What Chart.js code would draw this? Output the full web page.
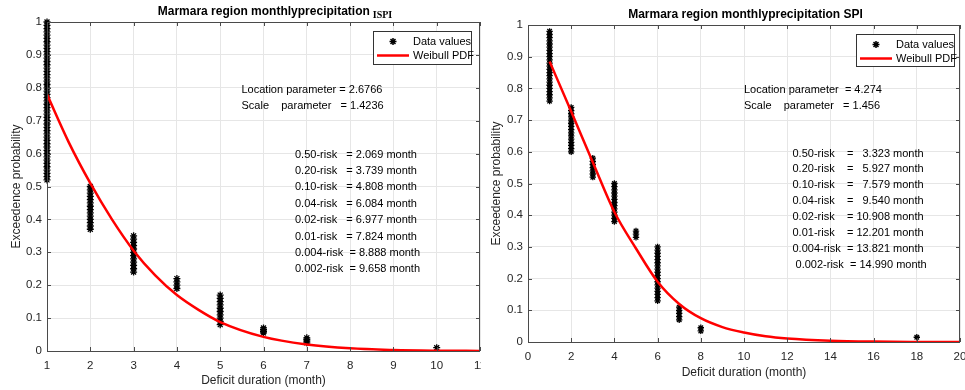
<!DOCTYPE html>
<html>
<head>
<meta charset="utf-8">
<script src="https://cdn.jsdelivr.net/npm/chart.js@4"></script>
<style>
  html, body { margin: 0; padding: 0; background: #fff; overflow: hidden; }
  .panel { position: absolute; top: 0; height: 390px; overflow: hidden; }
  .inner { position: relative; width: 500px; height: 390px; }
  #pl { left: 0; width: 481px; }
  #pr { left: 482px; width: 483px; }
</style>
</head>
<body>
<div class="panel" id="pl"><div class="inner"><canvas id="chart-left"></canvas></div></div>
<div class="panel" id="pr"><div class="inner"><canvas id="chart-right"></canvas></div></div>
<script>
// ---- ISPI panel (left) ----
const ispiDurations = [1, 2, 3, 4, 5, 6, 7, 10];
const ispiProbs = [
  [1.00, 0.99, 0.98, 0.97, 0.96, 0.95, 0.94, 0.93, 0.92, 0.91, 0.90, 0.89, 0.88, 0.87, 0.86, 0.85, 0.84,
   0.83, 0.82, 0.81, 0.80, 0.79, 0.78, 0.77, 0.76, 0.75, 0.74, 0.73, 0.72, 0.71, 0.70, 0.69, 0.68, 0.67,
   0.66, 0.65, 0.64, 0.63, 0.62, 0.61, 0.60, 0.59, 0.58, 0.57, 0.56, 0.55, 0.54, 0.53, 0.52],
  [0.50, 0.49, 0.48, 0.47, 0.46, 0.45, 0.44, 0.43, 0.42, 0.41, 0.40, 0.39, 0.38, 0.37],
  [0.35, 0.34, 0.33, 0.32, 0.31, 0.30, 0.29, 0.28, 0.27, 0.26, 0.25, 0.24],
  [0.22, 0.21, 0.20, 0.19],
  [0.17, 0.16, 0.15, 0.14, 0.13, 0.12, 0.11, 0.10, 0.09, 0.08],
  [0.07, 0.065, 0.06, 0.055],
  [0.04, 0.035, 0.03, 0.025],
  [0.01]
];
const ispiFitX = [1, 1.5, 2, 2.5, 3, 3.5, 4, 4.5, 5, 6, 7, 8, 9, 10, 11];
const ispiFitY = [0.78, 0.635, 0.51, 0.40, 0.305, 0.23, 0.17, 0.125, 0.088, 0.043, 0.02, 0.008, 0.003, 0.001, 0.0003];
const ispiParams = ["Location parameter = 2.6766", "Scale    parameter   = 1.4236"];
const ispiRisks = [
  "0.50-risk   = 2.069 month",
  "0.20-risk   = 3.739 month",
  "0.10-risk   = 4.808 month",
  "0.04-risk   = 6.084 month",
  "0.02-risk   = 6.977 month",
  "0.01-risk   = 7.824 month",
  "0.004-risk  = 8.888 month",
  "0.002-risk  = 9.658 month"
];

// ---- SPI panel (right) ----
const spiDurations = [1, 2, 3, 4, 5, 6, 7, 8, 18];
const spiProbs = [
  [0.98, 0.97, 0.96, 0.95, 0.94, 0.93, 0.92, 0.91, 0.90, 0.89, 0.88, 0.87, 0.86, 0.85, 0.84, 0.83, 0.82,
   0.81, 0.80, 0.79, 0.78, 0.77, 0.76],
  [0.74, 0.73, 0.72, 0.71, 0.70, 0.69, 0.68, 0.67, 0.66, 0.65, 0.64, 0.63, 0.62, 0.61, 0.60],
  [0.58, 0.57, 0.56, 0.55, 0.54, 0.53, 0.52],
  [0.50, 0.49, 0.48, 0.47, 0.46, 0.45, 0.44, 0.43, 0.42, 0.41, 0.40, 0.39, 0.38],
  [0.35, 0.34, 0.33],
  [0.30, 0.29, 0.28, 0.27, 0.26, 0.25, 0.24, 0.23, 0.22, 0.21, 0.20, 0.19, 0.18, 0.17, 0.16, 0.15, 0.14, 0.13],
  [0.11, 0.10, 0.09, 0.08, 0.07],
  [0.045, 0.035],
  [0.015]
];
const spiFitX = [1, 2, 3, 4, 5, 6, 7, 8, 9, 10, 11, 12, 14, 16, 18, 20];
const spiFitY = [0.885, 0.727, 0.567, 0.41, 0.295, 0.19, 0.12, 0.075, 0.047, 0.03, 0.018, 0.011, 0.004, 0.0012, 0.0003, 0.0001];
const spiParams = ["Location parameter  = 4.274", "Scale    parameter   = 1.456"];
const spiRisks = [
  "0.50-risk    =   3.323 month",
  "0.20-risk    =   5.927 month",
  "0.10-risk    =   7.579 month",
  "0.04-risk    =   9.540 month",
  "0.02-risk    = 10.908 month",
  "0.01-risk    = 12.201 month",
  "0.004-risk  = 13.821 month",
  " 0.002-risk  = 14.990 month"
];

const FONT = "'Liberation Sans', Arial, sans-serif";
const AXIS_COLOR = "#4a4a4a";
const TEXT_COLOR = "#262626";

function toPoints(xs, ys) {
  return xs.map((x, i) => ({ x, y: ys[i] }));
}
function stackPoints(durations, probs) {
  const out = [];
  durations.forEach((d, i) => probs[i].forEach(p => out.push({ x: d, y: p })));
  return out;
}

// MATLAB-like decorations: box, inward ticks, titles, legend, annotations
const decor = {
  id: "decor",
  afterDatasetsDraw(chart, args, o) {
    const ctx = chart.ctx;
    const a = chart.chartArea;
    const xs = chart.scales.x, ys = chart.scales.y;
    ctx.save();

    // box + inward ticks
    ctx.strokeStyle = AXIS_COLOR;
    ctx.lineWidth = 1;
    ctx.strokeRect(a.left + 0.5, a.top + 0.5, a.right - a.left - 1, a.bottom - a.top);
    ctx.beginPath();
    xs.ticks.forEach(t => {
      const px = Math.round(xs.getPixelForValue(t.value)) + 0.5;
      ctx.moveTo(px, a.bottom); ctx.lineTo(px, a.bottom - 4);
      ctx.moveTo(px, a.top); ctx.lineTo(px, a.top + 4);
    });
    ys.ticks.forEach(t => {
      const py = Math.round(ys.getPixelForValue(t.value)) + 0.5;
      ctx.moveTo(a.left, py); ctx.lineTo(a.left + 4, py);
      ctx.moveTo(a.right, py); ctx.lineTo(a.right - 4, py);
    });
    ctx.stroke();

    // title (with optional subscript)
    ctx.fillStyle = "#000";
    ctx.textBaseline = "middle";
    ctx.font = "bold 12px " + FONT;
    const mainW = ctx.measureText(o.title).width;
    let subW = 0;
    if (o.sub) {
      ctx.font = "bold 10px 'Liberation Serif', 'Times New Roman', serif";
      subW = ctx.measureText(o.sub).width + 3;
    }
    const tx = o.titleX - (mainW + subW) / 2;
    ctx.font = "bold 12px " + FONT;
    ctx.textAlign = "left";
    ctx.fillText(o.title, tx, o.titleY);
    if (o.sub) {
      ctx.font = "bold 10px 'Liberation Serif', 'Times New Roman', serif";
      ctx.fillText(o.sub, tx + mainW + 3, o.titleY + 3);
    }

    // axis titles
    ctx.fillStyle = TEXT_COLOR;
    ctx.font = "12px " + FONT;
    ctx.textAlign = "center";
    ctx.fillText("Deficit duration (month)", (a.left + a.right) / 2, o.xTitleY);
    ctx.save();
    ctx.translate(o.yTitleX, (a.top + a.bottom) / 2);
    ctx.rotate(-Math.PI / 2);
    ctx.fillText("Exceedence probability", 0, 0);
    ctx.restore();

    // annotations
    ctx.textAlign = "left";
    ctx.font = "11px " + FONT;
    ctx.fillStyle = "#000";
    o.params.forEach((s, i) => ctx.fillText(s, a.left + o.paramDx, o.paramY + i * 16));
    o.risks.forEach((s, i) => ctx.fillText(s, a.left + o.riskDx, o.riskY + i * o.riskStep));

    // legend
    const L = o.legend;
    ctx.fillStyle = "#fff";
    ctx.fillRect(L.x, L.y, L.w, L.h);
    ctx.strokeStyle = "#333";
    ctx.lineWidth = 1;
    ctx.strokeRect(L.x + 0.5, L.y + 0.5, L.w, L.h);
    // star marker
    const sx = L.x + 20, sy = L.y + 10.5, r = 3.5;
    ctx.strokeStyle = "#000";
    ctx.lineWidth = 1.5;
    ctx.beginPath();
    for (let k = 0; k < 4; k++) {
      const ang = k * Math.PI / 4;
      ctx.moveTo(sx - r * Math.cos(ang), sy - r * Math.sin(ang));
      ctx.lineTo(sx + r * Math.cos(ang), sy + r * Math.sin(ang));
    }
    ctx.stroke();
    ctx.strokeStyle = "#ff0000";
    ctx.lineWidth = 2.5;
    ctx.beginPath();
    ctx.moveTo(L.x + 4, L.y + 24.5);
    ctx.lineTo(L.x + 36, L.y + 24.5);
    ctx.stroke();
    ctx.fillStyle = "#000";
    ctx.font = "11px " + FONT;
    ctx.fillText("Data values", L.x + 40, L.y + 10.5);
    ctx.fillText("Weibull PDF", L.x + 40, L.y + 24.5);

    ctx.restore();
  }
};

function buildChart(canvasId, p) {
  const ctx = document.getElementById(canvasId);
  return new Chart(ctx, {
    type: "line",
    data: {
      datasets: [
        {
          label: "Weibull PDF",
          data: toPoints(p.fitX, p.fitY),
          borderColor: "#ff0000",
          borderWidth: 2.5,
          pointRadius: 0,
          fill: false,
          cubicInterpolationMode: "monotone"
        },
        {
          label: "Data values",
          data: stackPoints(p.durations, p.probs),
          showLine: false,
          pointStyle: "star",
          pointRadius: p.starR,
          borderColor: "#000",
          backgroundColor: "#000",
          borderWidth: 1.3,
          clip: false
        }
      ]
    },
    options: {
      responsive: true,
      maintainAspectRatio: false,
      animation: false,
      events: [],
      layout: { padding: p.padding },
      plugins: {
        legend: { display: false },
        tooltip: { enabled: false },
        decor: p.decor
      },
      scales: {
        x: {
          type: "linear",
          min: p.xMin, max: p.xMax,
          ticks: {
            stepSize: p.xStep, autoSkip: false, maxRotation: 0, padding: 8,
            color: TEXT_COLOR, font: { family: FONT, size: 11.5 }
          },
          grid: { color: "#e6e6e6", drawTicks: false },
          border: { display: false },
          afterFit: (s) => { s.height = p.xAxisH; }
        },
        y: {
          min: 0, max: 1,
          ticks: {
            stepSize: 0.1, padding: 5,
            color: TEXT_COLOR, font: { family: FONT, size: 11.5 },
            callback: (v) => String(Number(v.toFixed(2)))
          },
          grid: { color: "#e6e6e6", drawTicks: false },
          border: { display: false },
          afterFit: (s) => { s.width = p.yAxisW; }
        }
      }
    },
    plugins: [decor]
  });
}

// inner canvas is 500 wide; right padding keeps the plot edge where the reference has it
buildChart("chart-left", {
  durations: ispiDurations, probs: ispiProbs, fitX: ispiFitX, fitY: ispiFitY,
  starR: 3.5, xMin: 1, xMax: 11, xStep: 1,
  padding: { top: 22, right: 20, left: 0, bottom: 0 }, yAxisW: 47, xAxisH: 39,
  decor: {
    title: "Marmara region monthlyprecipitation", sub: "ISPI", titleX: 275, titleY: 12,
    xTitleY: 381, yTitleX: 17,
    params: ispiParams, paramDx: 194.5, paramY: 89.5,
    risks: ispiRisks, riskDx: 248, riskY: 154.5, riskStep: 16.4,
    legend: { x: 373, y: 31, w: 98, h: 33 }
  }
});

buildChart("chart-right", {
  durations: spiDurations, probs: spiProbs, fitX: spiFitX, fitY: spiFitY,
  starR: 3.2, xMin: 0, xMax: 20, xStep: 2,
  padding: { top: 25, right: 22, left: 0, bottom: 0 }, yAxisW: 46, xAxisH: 48,
  decor: {
    title: "Marmara region monthlyprecipitation SPI", sub: "", titleX: 263.5, titleY: 14.5,
    xTitleY: 373, yTitleX: 15,
    params: spiParams, paramDx: 216, paramY: 89.5,
    risks: spiRisks, riskDx: 264.5, riskY: 153.5, riskStep: 15.9,
    legend: { x: 374, y: 34, w: 98, h: 32 }
  }
});
</script>
</body>
</html>
